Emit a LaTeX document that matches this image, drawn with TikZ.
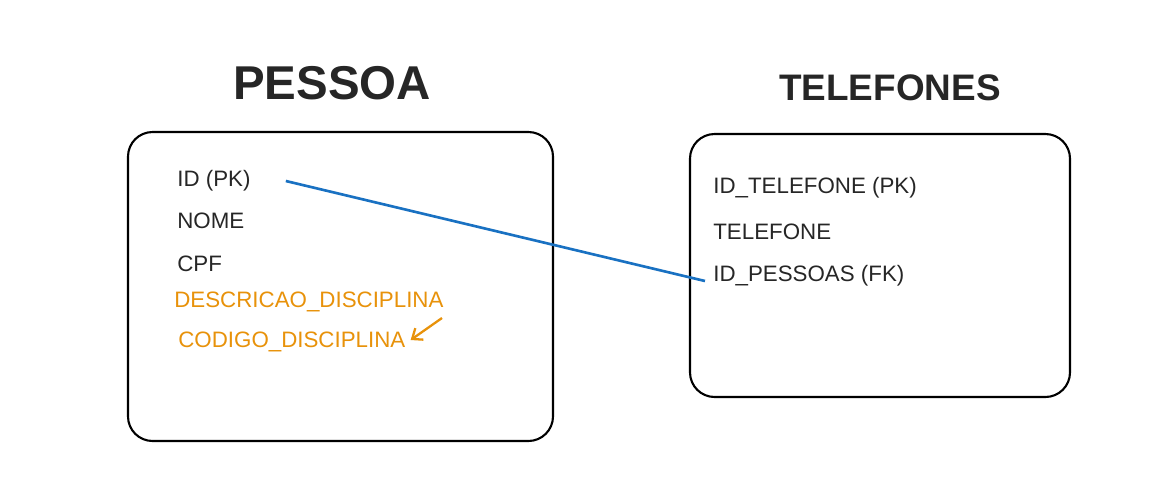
\documentclass[tikz,border=0pt]{standalone}
\usepackage{fontspec}
\setmainfont{Liberation Sans}
\usepackage{xcolor}
\usetikzlibrary{arrows.meta,positioning}

\definecolor{relblue}{HTML}{1971C2}
\definecolor{newor}{HTML}{E8920A}

\begin{document}
\begin{tikzpicture}[
  tbl/.style={rectangle, rounded corners=14pt, draw, line width=1.2pt,
              fill=white},
  title/.style={font=\bfseries, text=black!85},
  fld/.style={anchor=west, inner sep=0pt, text=black!85,
              font=\fontsize{12.7}{14}\selectfont},
  newfld/.style={fld, text=newor},
  rel/.style={draw=relblue, line width=1.5pt},
  arr/.style={-{Straight Barb[length=5pt,width=8pt]}, draw=newor, line width=1.3pt}
]
\useasboundingbox (0,0) rectangle (23.14,-9.6);

% ---- Tables ----
\node[tbl, minimum width=8.5cm, minimum height=6.18cm]  (pessoa)    at (6.81,-5.73) {};
\node[tbl, minimum width=7.6cm, minimum height=5.26cm]  (telefones) at (17.6,-5.31) {};

% ---- Titles ----
\node[title, font=\fontsize{27}{30}\selectfont\bfseries] (tpessoa) at (6.64,-1.66) {PESSOA};
\node[title, font=\fontsize{21}{24}\selectfont\bfseries] (ttel) at (17.8,-1.76) {TELEFONES};

% ---- PESSOA fields ----
\node[fld]    (idpk)   at (3.54,-3.62) {ID (PK)};
\node[fld]    (nome)   at (3.54,-4.42) {NOME};
\node[fld]    (cpf)    at (3.54,-5.28) {CPF};
\node[newfld] (desc)   at (3.48,-6.04) {DESCRICAO\_DISCIPLINA};
\node[newfld] (codigo) at (3.56,-6.84) {CODIGO\_DISCIPLINA};

% ---- TELEFONES fields ----
\node[fld] (idtel) at (14.26,-3.76) {ID\_TELEFONE (PK)};
\node[fld] (tel)   at (14.26,-4.64) {TELEFONE};
\node[fld] (idpes) at (14.26,-5.52) {ID\_PESSOAS (FK)};

% ---- Relation and note ----
\draw[rel] ([xshift=0.7cm]idpk.east) -- ([xshift=-0.16cm,yshift=-0.1cm]idpes.west);
\coordinate (mark) at (8.84,-6.36);
\draw[arr] (mark) -- ([xshift=0.1cm,yshift=0.04cm]codigo.east);

\end{tikzpicture}
\end{document}
